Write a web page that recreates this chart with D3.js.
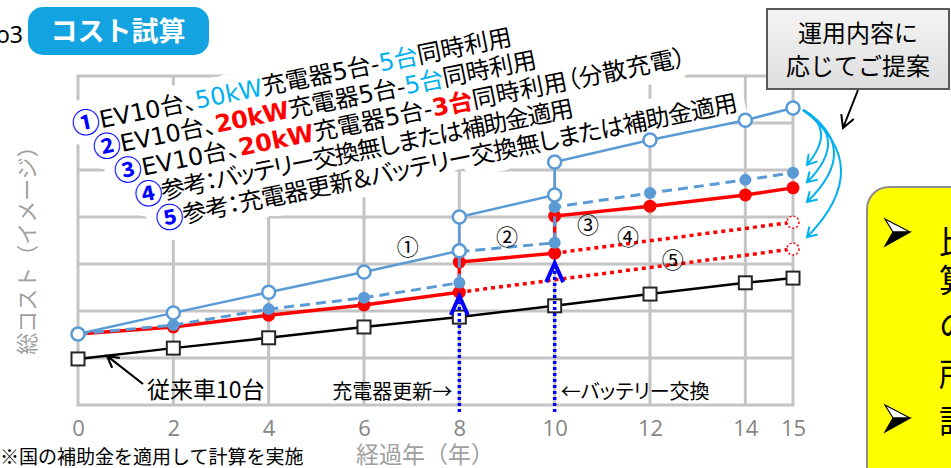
<!DOCTYPE html>
<html><head><meta charset="utf-8">
<script src="https://cdn.jsdelivr.net/npm/d3@7"></script>
<style>
html,body{margin:0;padding:0;background:#fff;overflow:hidden;}
svg{display:block;font-family:"Noto Sans CJK JP","Noto Sans",sans-serif;}
.palt{font-feature-settings:"palt";}
.leg{font-family:"DejaVu Sans","Noto Sans CJK JP",sans-serif;font-feature-settings:"palt";}
.cjk{font-family:"Noto Sans CJK JP",sans-serif;font-size:28px;}
</style></head><body>
<svg id="c" width="951" height="468"></svg>
<script>
// ---- data (grid units, relative cost image) ----
const years = [0, 2, 4, 6, 8, 8, 10, 10, 12, 14, 15];
const ev50kW = [1.51, 1.96, 2.40, 2.83, 3.28, 4.00, 4.47, 5.17, 5.64, 6.06, 6.32];
const ev20kW = [1.51, 1.70, 2.04, 2.28, 2.60, 3.26, 3.45, 4.21, 4.51, 4.79, 4.94];
const ev20kWSplit = [1.51, 1.66, 1.91, 2.13, 2.40, 3.04, 3.23, 4.02, 4.23, 4.47, 4.62];
const ref4Years = [10, 15];
const ref4 = [3.23, 3.89];
const ref5Years = [8, 15];
const ref5 = [2.40, 3.32];
const iceYears = [0, 2, 4, 6, 8, 10, 12, 14, 15];
const ice = [0.98, 1.21, 1.43, 1.66, 1.87, 2.11, 2.36, 2.60, 2.70];
const xTicks = [0, 2, 4, 6, 8, 10, 12, 14, 15];
const yGrid = [1, 2, 3, 4, 5, 6];
const eventYears = [8, 10];
const eventTips = [2.32, 3.02];
const eventLabels = ["充電器更新→", "←バッテリー交換"];
const tagLabels = ["①", "②", "③", "④", "⑤"];
const tagX = [6.92, 9.0, 10.70, 11.54, 12.48];
const tagY = [3.40, 3.62, 3.87, 3.62, 3.13];
const curveTargets = [5.11, 4.74, 4.32, 3.57];
const curveBulge = [15, 22, 28, 35];
const legendLines = [
  [["①","num"],["EV10台、",""],["50kW","cyan"],["充電器5台-",""],["5台","cyan"],["同時利用",""]],
  [["②","num"],["EV10台、",""],["20kW","red"],["充電器5台-",""],["5台","cyan"],["同時利用",""]],
  [["③","num"],["EV10台、",""],["20kW","red"],["充電器5台-",""],["3台","red"],["同時利用（分散充電）",""]],
  [["④","num"],["参考：バッテリー交換無しまたは補助金適用",""]],
  [["⑤","num"],["参考：充電器更新＆バッテリー交換無しまたは補助金適用",""]]
];
const legendWidths = [448, 452, 583, 447, 593];
const yTitle = "総コスト（イメージ）";
const xTitle = "経過年（年）";
const iceLabel = "従来車10台";
const footnote = "※国の補助金を適用して計算を実施";
const titleText = "コスト試算";
const pageNo = "No3";
const proposalLines = ["運用内容に", "応じてご提案"];
const sideLines = ["比較検討", "算出", "の", "所要", "詳細"];

// ---- chart ----
const svg = d3.select("#c");
const x = d3.scaleLinear().domain([0, 15]).range([78, 793]);
const y = d3.scaleLinear().domain([0, 7]).range([405, 76]);
const zip = (xs, vs) => xs.map((d, i) => [d, vs[i]]);
const line = d3.line().x(d => x(d[0])).y(d => y(d[1]));
const BLUE = "#5b9bd5", RED = "#ff0000", CYAN = "#00b0f0";

// grid
const grid = svg.append("g").attr("stroke", "#c4c4c4").attr("stroke-width", 3);
grid.selectAll("line.v").data(xTicks.filter(d => d > 0 && d < 15)).join("line")
  .attr("x1", d => x(d)).attr("x2", d => x(d)).attr("y1", y(0)).attr("y2", y(7));
grid.selectAll("line.h").data(yGrid).join("line")
  .attr("x1", x(0)).attr("x2", x(15)).attr("y1", d => y(d)).attr("y2", d => y(d));
grid.append("rect").attr("x", x(0)).attr("y", y(7)).attr("width", x(15) - x(0)).attr("height", y(0) - y(7)).attr("fill", "none");

// axis
const ax = svg.append("g").attr("transform", `translate(0,${y(0)})`)
  .call(d3.axisBottom(x).tickValues(xTicks).tickSize(0).tickPadding(15));
ax.select(".domain").remove();
ax.selectAll("text").attr("font-size", 22).attr("fill", "#858585").attr("font-family", "'Open Sans','Noto Sans',sans-serif");

svg.append("text").attr("x", 425).attr("y", 463).attr("text-anchor", "middle")
  .attr("font-size", 23).attr("fill", "#a0a0a0").text(xTitle);
svg.append("text").attr("transform", "translate(25,245) rotate(-90)").attr("text-anchor", "middle")
  .attr("dominant-baseline", "central").attr("font-size", 22).attr("fill", "#a0a0a0").text(yTitle);

// legend (rotated, with white glow)
const lg = svg.append("g").attr("class", "leg").attr("transform", "translate(85,123) rotate(-11.5)");
function drawLegend(glow) {
  legendLines.forEach((parts, i) => {
    const t = lg.append("text").attr("x", i * 15.8 - 13).attr("y", i * 27.4 + 8.5).attr("font-size", 24)
      .attr("textLength", legendWidths[i]).attr("lengthAdjust", "spacing");
    if (glow) t.attr("fill", "#fff").attr("stroke", "#fff").attr("stroke-width", 20).attr("stroke-linejoin", "round");
    parts.forEach(([s, k]) => {
      const ts = t.append("tspan").text(s);
      if (k === "num") ts.attr("class", "cjk").attr("font-weight", "bold").attr("dy", 1.5);
      if (k === "red") ts.attr("font-weight", "bold");
      if (k !== "num" && ts.node().previousSibling === null) ts.attr("dy", 0);
      if (!glow) {
        if (k === "num") ts.attr("fill", "#0000ff");
        else if (k === "cyan") ts.attr("fill", CYAN);
        else if (k === "red") ts.attr("fill", RED);
        else ts.attr("fill", "#000");
      }
    });
    t.selectAll("tspan").filter((d, j) => j === 1).attr("dy", -1.5);
  });
}
drawLegend(true);
drawLegend(false);

// series
svg.append("path").datum(zip(iceYears, ice)).attr("d", line).attr("fill", "none").attr("stroke", "#000").attr("stroke-width", 2.5);
svg.append("g").selectAll("rect").data(zip(iceYears, ice)).join("rect")
  .attr("x", d => x(d[0]) - 6.5).attr("y", d => y(d[1]) - 6.5).attr("width", 13).attr("height", 13)
  .attr("fill", "#fff").attr("stroke", "#262626").attr("stroke-width", 2);

[[ref5Years, ref5], [ref4Years, ref4]].forEach(([xs, vs]) => {
  const pts = zip(xs, vs);
  svg.append("path").datum(pts).attr("d", line).attr("fill", "none").attr("stroke", RED).attr("stroke-width", 3.5).attr("stroke-dasharray", "4,4");
  const last = pts[pts.length - 1];
  svg.append("circle").attr("cx", x(last[0])).attr("cy", y(last[1])).attr("r", 6)
    .attr("fill", "#fff").attr("stroke", RED).attr("stroke-width", 1.5).attr("stroke-dasharray", "2,2");
});

const splitPts = zip(years, ev20kWSplit);
svg.append("path").datum(splitPts).attr("d", line).attr("fill", "none").attr("stroke", RED).attr("stroke-width", 3.5);
svg.append("g").selectAll("circle").data(splitPts).join("circle")
  .attr("cx", d => x(d[0])).attr("cy", d => y(d[1])).attr("r", 6.5).attr("fill", RED);

const ev20Pts = zip(years, ev20kW);
svg.append("path").datum(ev20Pts).attr("d", line).attr("fill", "none").attr("stroke", BLUE).attr("stroke-width", 3).attr("stroke-dasharray", "10,6");
svg.append("g").selectAll("circle").data(ev20Pts).join("circle")
  .attr("cx", d => x(d[0])).attr("cy", d => y(d[1])).attr("r", 6).attr("fill", BLUE);

const ev50Pts = zip(years, ev50kW);
svg.append("path").datum(ev50Pts).attr("d", line).attr("fill", "none").attr("stroke", BLUE).attr("stroke-width", 2.5);
svg.append("g").selectAll("circle").data(ev50Pts).join("circle")
  .attr("cx", d => x(d[0])).attr("cy", d => y(d[1])).attr("r", 6.5)
  .attr("fill", "#fff").attr("stroke", BLUE).attr("stroke-width", 2.5);

// event arrows
eventYears.forEach((yr, i) => {
  const cx = x(yr), ty = y(eventTips[i]);
  svg.append("line").attr("x1", cx).attr("x2", cx).attr("y1", y(0) + 7).attr("y2", ty + 6)
    .attr("stroke", "#0000ff").attr("stroke-width", 3.5).attr("stroke-dasharray", "3,3");
  svg.append("path").attr("d", `M${cx - 8.5},${ty + 19}L${cx},${ty}L${cx + 8.5},${ty + 19}`)
    .attr("fill", "none").attr("stroke", "#0000ff").attr("stroke-width", 4);
});
svg.append("text").attr("class", "palt").attr("x", x(8) - 7).attr("y", 399).attr("text-anchor", "end").attr("font-size", 20).text(eventLabels[0]);
svg.append("text").attr("class", "palt").attr("x", x(10) + 6).attr("y", 399).attr("font-size", 20).text(eventLabels[1]);

// series tags
svg.append("g").selectAll("text").data(tagLabels).join("text")
  .attr("x", (d, i) => x(tagX[i])).attr("y", (d, i) => y(tagY[i])).attr("text-anchor", "middle")
  .attr("dominant-baseline", "central").attr("font-size", 22).text(d => d);

// ICE label + arrow
function arrowHead(tx, ty, fx, fy, len, ang) {
  const a = Math.atan2(fy - ty, fx - tx);
  return `M${tx + len * Math.cos(a - ang)},${ty + len * Math.sin(a - ang)}L${tx},${ty}L${tx + len * Math.cos(a + ang)},${ty + len * Math.sin(a + ang)}`;
}
svg.append("text").attr("x", 147).attr("y", 398).attr("font-size", 23).text(iceLabel);
const ix0 = x(0) + 29, iy0 = y(ice[0]) - 3;
svg.append("path").attr("d", `M143,384L${ix0},${iy0}` + arrowHead(ix0, iy0, 143, 384, 13, 0.5))
  .attr("fill", "none").attr("stroke", "#000").attr("stroke-width", 2.2);

// cyan curved arrows
const sx = x(15) + 10, sy = y(ev50kW[ev50kW.length - 1]) + 2;
curveTargets.forEach((t, i) => {
  const ex = x(15) + 14, ey = y(t);
  const cx = sx + 2 * curveBulge[i] + 4, cy = (sy + ey) / 2 - 8;
  svg.append("path").attr("d", `M${sx},${sy}Q${cx},${cy} ${ex},${ey}` + arrowHead(ex, ey, cx, cy, 11, 0.55))
    .attr("fill", "none").attr("stroke", CYAN).attr("stroke-width", 2);
});

// proposal box
const pb = svg.append("g");
const grad = svg.append("defs").append("linearGradient").attr("id", "gb").attr("x1", 0).attr("x2", 0).attr("y1", 0).attr("y2", 1);
grad.append("stop").attr("offset", 0).attr("stop-color", "#f4f4f4");
grad.append("stop").attr("offset", 1).attr("stop-color", "#dedede");
pb.append("rect").attr("x", 767).attr("y", 9).attr("width", 182).attr("height", 80).attr("fill", "url(#gb)").attr("stroke", "#595959").attr("stroke-width", 2);
proposalLines.forEach((s, i) => pb.append("text").attr("x", 858).attr("y", 42 + i * 33).attr("text-anchor", "middle").attr("font-size", 24).text(s));
svg.append("path").attr("d", "M858,90L843,128" + arrowHead(843, 128, 858, 90, 14, 0.5)).attr("fill", "none").attr("stroke", "#000").attr("stroke-width", 2);

// yellow side box
svg.append("rect").attr("x", 867).attr("y", 187).attr("width", 140).attr("height", 320).attr("rx", 22)
  .attr("fill", "#ffff00").attr("stroke", "#8c8c8c").attr("stroke-width", 2);
[232, 418].forEach(cy => {
  svg.append("path").attr("d", `M885,${cy - 13}L910,${cy}L893,${cy}Z`).attr("fill", "#fff").attr("stroke", "#000").attr("stroke-width", 1.2);
  svg.append("path").attr("d", `M885,${cy + 14}L910,${cy}L893,${cy}Z`).attr("fill", "#000").attr("stroke", "#000").attr("stroke-width", 1.2);
});
const sideY = [254, 292, 337, 386, 433];
sideLines.forEach((s, i) => svg.append("text").attr("x", 939).attr("y", sideY[i]).attr("font-size", 32).text(s));

// title
svg.append("rect").attr("x", 28).attr("y", 7).attr("width", 181).attr("height", 48).attr("rx", 15).attr("fill", "#13a3e0");
svg.append("text").attr("x", 118).attr("y", 41).attr("text-anchor", "middle").attr("font-size", 27).attr("font-weight", "bold").attr("fill", "#fff").text(titleText);
svg.append("text").attr("x", 23).attr("y", 43).attr("text-anchor", "end").attr("font-size", 23).attr("font-family", "'Noto Sans',sans-serif").text(pageNo);

// footnote
svg.append("text").attr("x", 0).attr("y", 464).attr("font-size", 19).text(footnote);
</script>
</body></html>
